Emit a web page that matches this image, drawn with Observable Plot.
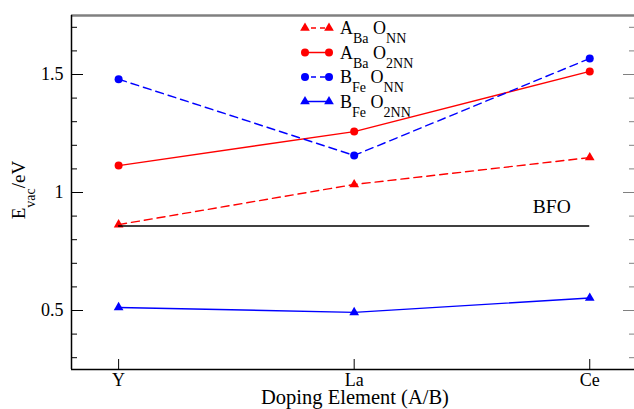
<!DOCTYPE html>
<html><head><meta charset="utf-8">
<script src="https://cdn.jsdelivr.net/npm/d3@7"></script>
<script src="https://cdn.jsdelivr.net/npm/@observablehq/plot@0.6"></script>
<style>body{margin:0;background:#fff;font-family:"Liberation Serif",serif;} #chart{width:634px;height:409px;}</style>
</head><body><div id="chart"></div>
<script>
const categories = ["Y", "La", "Ce"];
const aBaONN  = [0.864, 1.034, 1.148];
const aBaO2NN = [1.114, 1.258, 1.513];
const bFeONN  = [1.480, 1.157, 1.568];
const bFeO2NN = [0.513, 0.492, 0.553];
const bfoValue = 0.858;
const majorTicks = [0.5, 1, 1.5];
const minorTicks = [0.3, 0.4, 0.6, 0.7, 0.8, 0.9, 1.1, 1.2, 1.3, 1.4, 1.6, 1.7];

const series = [
  {main1: "A", sub1: "Ba", main2: "O", sub2: "NN",  values: aBaONN,  color: "#ff0000", dash: "8,5", symbol: "triangle"},
  {main1: "A", sub1: "Ba", main2: "O", sub2: "2NN", values: aBaO2NN, color: "#ff0000", dash: null,  symbol: "circle"},
  {main1: "B", sub1: "Fe", main2: "O", sub2: "NN",  values: bFeONN,  color: "#0000ff", dash: "8,5", symbol: "circle"},
  {main1: "B", sub1: "Fe", main2: "O", sub2: "2NN", values: bFeO2NN, color: "#0000ff", dash: null,  symbol: "triangle"}
];

const FONT = "Liberation Serif, serif";
const marks = [];
for (const s of series) {
  const data = categories.map((c, i) => ({x: i, y: s.values[i]}));
  marks.push(Plot.line(data, {x: "x", y: "y", stroke: s.color, strokeWidth: 1.4, strokeDasharray: s.dash}));
  marks.push(Plot.dot(data, {x: "x", y: "y", fill: s.color, stroke: "none", symbol: s.symbol, r: s.symbol === "circle" ? 4 : 3.6}));
}
marks.push(Plot.ruleY([bfoValue], {x1: 0, x2: categories.length - 1, stroke: "black", strokeWidth: 1.4}));
marks.push(Plot.text(["BFO"], {x: categories.length - 1, y: bfoValue, text: d => d, dx: -38, dy: -19, fontSize: 19.5, fill: "black", fontFamily: FONT}));

// frame
marks.push(Plot.ruleY([1.75], {stroke: "#808080", strokeWidth: 2.5}));
marks.push(Plot.ruleX([-0.2], {stroke: "black", strokeWidth: 1.5}));
marks.push(Plot.ruleY([0.25], {stroke: "black", strokeWidth: 1.5}));

// y axis ticks/labels
marks.push(Plot.axisY({anchor: "left", ticks: majorTicks, tickSize: 0, tickPadding: 8, tickFormat: d => String(d), fontSize: 18, fontFamily: FONT, label: null}));
marks.push(Plot.axisY({anchor: "left", ticks: majorTicks, tickSize: -12, tickFormat: () => "", label: null, stroke: "black"}));
marks.push(Plot.axisY({anchor: "left", ticks: minorTicks, tickSize: -6, tickFormat: () => "", label: null, stroke: "black"}));
marks.push(Plot.axisY({anchor: "right", ticks: majorTicks, tickSize: -12, tickFormat: () => "", label: null, stroke: "#808080"}));
marks.push(Plot.axisY({anchor: "right", ticks: minorTicks, tickSize: -6, tickFormat: () => "", label: null, stroke: "#808080"}));
// x axis
marks.push(Plot.axisX({anchor: "bottom", ticks: [0, 1, 2], tickSize: 0, tickPadding: 4, tickFormat: i => categories[i], fontSize: 18, fontFamily: FONT, label: null}));
marks.push(Plot.axisX({anchor: "bottom", ticks: [0, 1, 2], tickSize: -10, tickFormat: () => "", label: null, stroke: "black"}));

const chart = Plot.plot({
  width: 634,
  height: 409,
  marginLeft: 71,
  marginRight: 0,
  marginTop: 15,
  marginBottom: 40,
  style: {fontFamily: FONT, fontSize: "18px", background: "white", color: "black"},
  x: {type: "linear", domain: [-0.2, 2.19]},
  y: {domain: [0.25, 1.75]},
  marks
});
document.getElementById("chart").appendChild(chart);

const svg = d3.select(chart);
// axis titles
const yt = svg.append("text")
  .attr("transform", "translate(25,190) rotate(-90)")
  .attr("text-anchor", "middle")
  .style("font-family", FONT).style("font-size", "19px").attr("fill", "black");
yt.append("tspan").text("E");
yt.append("tspan").style("font-size", "14px").attr("dy", 10).text("vac");
yt.append("tspan").attr("dy", -10).text("/eV");

svg.append("text")
  .attr("x", 355).attr("y", 404)
  .attr("text-anchor", "middle")
  .style("font-family", FONT).style("font-size", "20.5px").attr("fill", "black")
  .text("Doping Element (A/B)");

// legend
const lg = svg.append("g").style("font-family", FONT);
series.forEach((s, i) => {
  const yy = 28 + i * 24.5;
  lg.append("line").attr("x1", 302).attr("x2", 331).attr("y1", yy).attr("y2", yy)
    .attr("stroke", s.color).attr("stroke-width", 1.5).attr("stroke-dasharray", s.dash ? "5,4" : null);
  const type = s.symbol === "circle" ? d3.symbolCircle : d3.symbolTriangle;
  const size = s.symbol === "circle" ? Math.PI * 16 : Math.PI * 3.6 * 3.6;
  [305, 329].forEach(px => {
    lg.append("path").attr("d", d3.symbol(type, size)()).attr("transform", `translate(${px},${yy})`).attr("fill", s.color);
  });
  const t = lg.append("text").attr("x", 340).attr("y", yy + 6).attr("text-anchor", "start")
    .style("font-size", "18px").attr("fill", "black");
  t.append("tspan").text(s.main1);
  t.append("tspan").style("font-size", "14px").attr("dy", 9).text(s.sub1);
  t.append("tspan").attr("dy", -9).text("\u00a0" + s.main2);
  t.append("tspan").style("font-size", "14px").attr("dy", 9).text(s.sub2);
});
</script>
</body></html>
